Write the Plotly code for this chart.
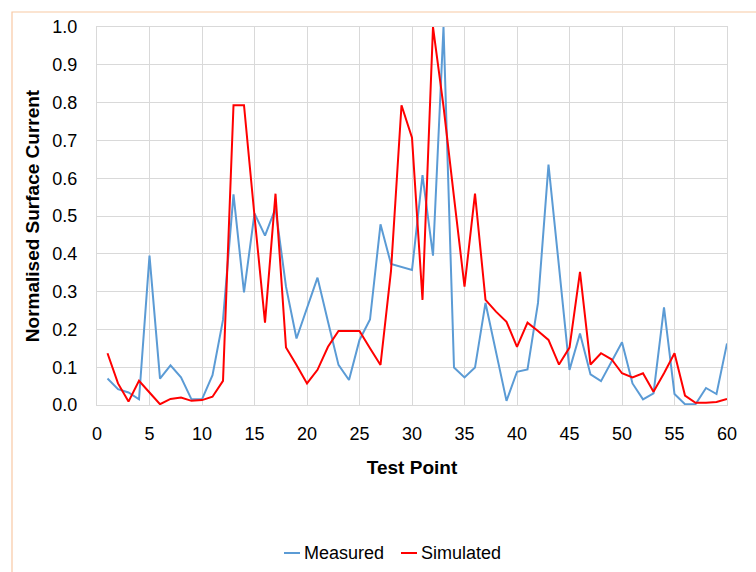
import plotly.graph_objects as go

# Test point index (1..60)
test_points = list(range(1, 61))

measured = [
    0.070, 0.042, 0.033, 0.015, 0.395, 0.070, 0.105, 0.073, 0.015, 0.015,
    0.079, 0.225, 0.557, 0.298, 0.507, 0.448, 0.520, 0.313, 0.176, 0.258,
    0.337, 0.220, 0.106, 0.066, 0.172, 0.226, 0.478, 0.373, 0.366, 0.357,
    0.608, 0.395, 1.000, 0.099, 0.073, 0.099, 0.270, 0.145, 0.011, 0.088,
    0.094, 0.270, 0.636, 0.366, 0.093, 0.189, 0.081, 0.063, 0.115, 0.166,
    0.057, 0.015, 0.031, 0.258, 0.029, 0.002, 0.002, 0.045, 0.029, 0.163,
]

simulated = [
    0.137, 0.057, 0.009, 0.064, 0.033, 0.002, 0.016, 0.020, 0.011, 0.013,
    0.022, 0.064, 0.793, 0.793, 0.500, 0.218, 0.559, 0.152, 0.106, 0.057,
    0.093, 0.154, 0.196, 0.196, 0.196, 0.150, 0.106, 0.355, 0.793, 0.707,
    0.278, 1.000, 0.790, 0.550, 0.313, 0.559, 0.278, 0.247, 0.220, 0.154,
    0.218, 0.196, 0.172, 0.107, 0.152, 0.352, 0.107, 0.137, 0.121, 0.084,
    0.073, 0.084, 0.035, 0.084, 0.137, 0.025, 0.006, 0.006, 0.008, 0.016,
]

series_names = ["Measured", "Simulated"]
series_colors = ["#5B9BD5", "#FF0000"]

FONT = "Liberation Sans"
GRID = "#D9D9D9"

# Plot-area geometry in pixels, used to place the frame and legend in paper units
W, H = 756, 572
L, R, T, B = 97, 29, 27, 167
PW, PH = W - L - R, H - T - B


def px_x(px):
    return (px - L) / PW


def px_y(py):
    return (H - B - py) / PH


fig = go.Figure()
for name, vals, col in zip(series_names, [measured, simulated], series_colors):
    fig.add_trace(go.Scatter(x=test_points, y=vals, mode="lines", name=name,
                             line=dict(color=col, width=2), showlegend=False))

fig.update_layout(
    width=W, height=H,
    margin=dict(l=L, r=R, t=T, b=B, autoexpand=False),
    paper_bgcolor="white", plot_bgcolor="white",
    font=dict(family=FONT, size=18, color="#000000"),
    showlegend=False,
    xaxis=dict(
        range=[0, 60], tickmode="linear", tick0=0, dtick=5,
        showgrid=True, gridcolor=GRID, gridwidth=1,
        showline=True, linecolor=GRID, linewidth=1, mirror=True,
        zeroline=False, ticks="", ticklabelstandoff=12,
        title=dict(text="<b>Test Point</b>", font=dict(family=FONT, size=19), standoff=18),
    ),
    yaxis=dict(
        range=[0, 1.0], tickmode="linear", tick0=0, dtick=0.1, tickformat=".1f",
        showgrid=True, gridcolor=GRID, gridwidth=1,
        showline=True, linecolor=GRID, linewidth=1, mirror=True,
        zeroline=False, ticks="", ticklabelstandoff=15,
        title=dict(text="<b>Normalised Surface Current</b>", font=dict(family=FONT, size=19),
                   standoff=7),
    ),
)

# Light orange frame around the chart area
fig.add_shape(type="rect", xref="paper", yref="paper",
              x0=px_x(12), x1=px_x(770), y0=px_y(590), y1=px_y(12),
              line=dict(color="#F8C9A4", width=1.2), fillcolor="rgba(0,0,0,0)",
              layer="below")

# Legend: short line sample followed by the series name
legend_y = px_y(553)
legend_starts = [284, 401]
for name, col, x0 in zip(series_names, series_colors, legend_starts):
    fig.add_shape(type="line", xref="paper", yref="paper",
                  x0=px_x(x0), x1=px_x(x0 + 16), y0=legend_y, y1=legend_y,
                  line=dict(color=col, width=2))
    fig.add_annotation(xref="paper", yref="paper", x=px_x(x0 + 18), y=legend_y,
                       text=name, showarrow=False, xanchor="left", yanchor="middle",
                       font=dict(family=FONT, size=18, color="#000000"))

fig.write_html("out.html")
